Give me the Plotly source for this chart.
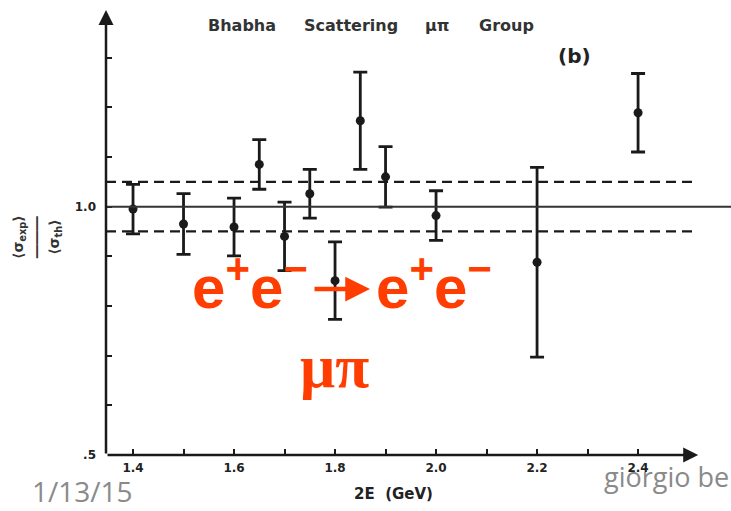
import plotly.graph_objects as go

# Data
energy = [1.40, 1.50, 1.60, 1.65, 1.70, 1.75, 1.80, 1.85, 1.90, 2.00, 2.20, 2.40]
ratio = [0.995, 0.965, 0.959, 1.085, 0.940, 1.026, 0.851, 1.173, 1.060, 0.982, 0.888, 1.189]
ratio_err = [0.050, 0.061, 0.058, 0.050, 0.069, 0.049, 0.078, 0.098, 0.061, 0.050, 0.191, 0.079]

ref_level = 1.0
band = 0.05

x_tick_vals = [1.4, 1.5, 1.6, 1.7, 1.8, 1.9, 2.0, 2.1, 2.2, 2.3, 2.4]
x_tick_text = ["1.4", "", "1.6", "", "1.8", "", "2.0", "", "2.2", "", "2.4"]
y_tick_vals = [0.5, 0.6, 0.7, 0.8, 0.9, 1.0, 1.1, 1.2, 1.3]
y_tick_text = [".5", "", "", "", "", "1.0", "", "", ""]

title_words = ["Bhabha", "Scattering", "μπ", "Group"]

x_min, x_max = 1.3465, 2.584
y_min, y_max = 0.5, 1.416
x_arrow_end = 2.519
y_arrow_end = 1.396
dash_end = 2.513

ink = "#1a1a1a"
red = "#FF3D00"
gray = "#8a8a8a"

W, H = 731, 511
ml, mr, mt, mb = 106, 0, 0, 56
pw, ph = W - ml - mr, H - mt - mb


def px(x):
    return (x - ml) / pw


def py(y):
    return 1 - (y - mt) / ph


fig = go.Figure()

fig.add_trace(go.Scatter(
    x=energy, y=ratio, mode="markers",
    marker=dict(color=ink, size=9),
    error_y=dict(type="data", array=ratio_err, visible=True,
                 color=ink, thickness=2.8, width=7),
    cliponaxis=False, showlegend=False,
))

# reference lines
fig.add_shape(type="line", xref="x", yref="y", x0=x_min, x1=x_max,
              y0=ref_level, y1=ref_level, line=dict(color="#333", width=2))
for lvl in (ref_level + band, ref_level - band):
    fig.add_shape(type="line", xref="x", yref="y", x0=x_min, x1=dash_end,
                  y0=lvl, y1=lvl, line=dict(color=ink, width=2.2, dash="10px,6px"))

# axes as arrows
fig.add_annotation(x=x_arrow_end, y=y_min, ax=x_min, ay=y_min, axref="x", ayref="y",
                   xref="x", yref="y", text="", showarrow=True, arrowhead=2,
                   arrowsize=1.2, arrowwidth=2.5, arrowcolor=ink)
fig.add_annotation(x=x_min, y=y_arrow_end, ax=x_min, ay=y_min, axref="x", ayref="y",
                   xref="x", yref="y", text="", showarrow=True, arrowhead=2,
                   arrowsize=1.2, arrowwidth=2.5, arrowcolor=ink)


def label(x, y, text, size, color, family="DejaVu Sans", xanchor="center", **kw):
    fig.add_annotation(x=px(x), y=py(y), xref="paper", yref="paper", text=text,
                       showarrow=False, xanchor=xanchor, yanchor="middle",
                       font=dict(family=family, size=size, color=color), **kw)


for word, cx in zip(title_words, [242, 351, 437, 506]):
    label(cx, 25, f"<b>{word}</b>", 16, "#333")
label(574, 56, "<b>(b)</b>", 20, "#222")
label(190, 283, "<b>e<sup>+</sup>e<sup>−</sup></b>", 60, red, family="Liberation Sans", xanchor="left")
label(374, 283, "<b>e<sup>+</sup>e<sup>−</sup></b>", 60, red, family="Liberation Sans", xanchor="left")
# the red reaction arrow
fig.add_annotation(x=px(370), y=py(289), ax=-57, ay=0, xref="paper", yref="paper",
                   axref="pixel", ayref="pixel", text="", showarrow=True, arrowhead=2,
                   arrowsize=1.1, arrowwidth=4.5, arrowcolor=red)
label(334, 366, "<b>μπ</b>", 62, red, family="Liberation Serif")
label(37, 237, "<b>⟨σ<sub>exp</sub>⟩<br>―――<br>⟨σ<sub>th</sub>⟩</b>", 14, "#333", textangle=-90)
label(393, 494, "<b>2E  (GeV)</b>", 15, "#222")
label(82, 491, "1/13/15", 28, gray, family="Open Sans")
label(602, 476, "giorgio be", 27, gray, family="Open Sans", xanchor="left")

fig.update_layout(
    width=W, height=H, margin=dict(l=ml, r=mr, t=mt, b=mb),
    paper_bgcolor="white", plot_bgcolor="white",
    xaxis=dict(range=[x_min, x_max], tickvals=x_tick_vals,
               ticktext=[f"<b>{t}</b>" if t else "" for t in x_tick_text],
               ticks="inside", ticklen=6, tickwidth=2, tickcolor=ink,
               ticklabelstandoff=4,
               showgrid=False, zeroline=False, showline=False,
               tickfont=dict(family="DejaVu Sans", size=12, color="#222")),
    yaxis=dict(range=[y_min, y_max], tickvals=y_tick_vals,
               ticktext=[f"<b>{t}</b>" if t else "" for t in y_tick_text],
               ticks="inside", ticklen=6, tickwidth=2, tickcolor=ink,
               ticklabelstandoff=9,
               showgrid=False, zeroline=False, showline=False,
               tickfont=dict(family="DejaVu Sans", size=12, color="#222")),
)

fig.write_html("out.html")
